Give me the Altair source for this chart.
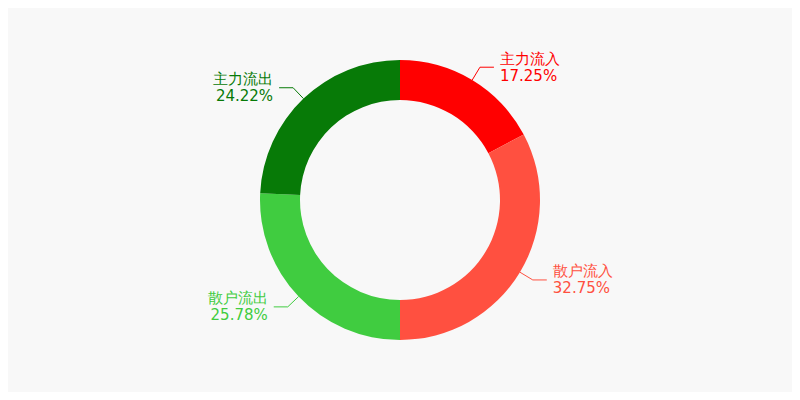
import altair as alt
import pandas as pd

# -----------------------------
# FUND FLOW SHARE (DONUT)
# -----------------------------
names = ["主力流入", "散户流入", "散户流出", "主力流出"]
shares = [17.25, 32.75, 25.78, 24.22]
colors = ["#ff0000", "#ff5040", "#40cc40", "#077a07"]

df = pd.DataFrame({"idx": list(range(len(names))), "name": names, "share": shares})

W, H = 784, 384
CX, CY = W / 2, H / 2
R_OUT, R_IN = 140, 100
R_ELBOW = 155
HLEN = 14
GAP = 6
LINE_H = 17

color = alt.Color(
    "name:N",
    scale=alt.Scale(domain=names, range=colors),
    legend=None,
)

base = alt.Chart(df)

donut = base.mark_arc(radius=R_OUT, innerRadius=R_IN).encode(
    theta=alt.Theta("share:Q", stack=True),
    order=alt.Order("idx:Q"),
    color=color,
)

geo = (
    base.transform_window(cum="sum(share)", sort=[alt.SortField("idx")])
    .transform_joinaggregate(total="sum(share)")
    .transform_calculate(
        mid="(datum.cum - datum.share / 2) / datum.total * 2 * PI",
        label="[datum.name, format(datum.share, '.2f') + '%']",
    )
    .transform_calculate(
        side="sin(datum.mid) >= 0 ? 1 : -1",
        sx=f"{CX} + {R_OUT} * sin(datum.mid)",
        sy=f"{CY} - {R_OUT} * cos(datum.mid)",
        ex=f"{CX} + {R_ELBOW} * sin(datum.mid)",
        ey=f"{CY} - {R_ELBOW} * cos(datum.mid)",
    )
    .transform_calculate(
        hx=f"datum.ex + datum.side * {HLEN}",
        tx=f"datum.ex + datum.side * {HLEN + GAP}",
    )
)

leader1 = geo.mark_rule(strokeWidth=1).encode(
    x=alt.X("sx:Q", scale=None),
    y=alt.Y("sy:Q", scale=None),
    x2="ex:Q",
    y2="ey:Q",
    color=color,
)

leader2 = geo.mark_rule(strokeWidth=1).encode(
    x=alt.X("ex:Q", scale=None),
    y=alt.Y("ey:Q", scale=None),
    x2="hx:Q",
    y2="ey:Q",
    color=color,
)

text_style = dict(
    baseline="middle",
    dy=-LINE_H / 2,
    fontSize=15,
    lineHeight=LINE_H,
    font="DejaVu Sans",
)

labels_right = (
    geo.transform_filter("datum.side > 0")
    .mark_text(align="left", **text_style)
    .encode(
        x=alt.X("tx:Q", scale=None),
        y=alt.Y("ey:Q", scale=None),
        text="label:N",
        color=color,
    )
)

labels_left = (
    geo.transform_filter("datum.side < 0")
    .mark_text(align="right", **text_style)
    .encode(
        x=alt.X("tx:Q", scale=None),
        y=alt.Y("ey:Q", scale=None),
        text="label:N",
        color=color,
    )
)

chart = (
    alt.layer(donut, leader1, leader2, labels_right, labels_left)
    .properties(width=W, height=H, padding=0, autosize="none", background="#f8f8f8")
    .configure_view(stroke=None)
)

chart.save("out.html", embed_options={"renderer": "svg", "actions": False})
